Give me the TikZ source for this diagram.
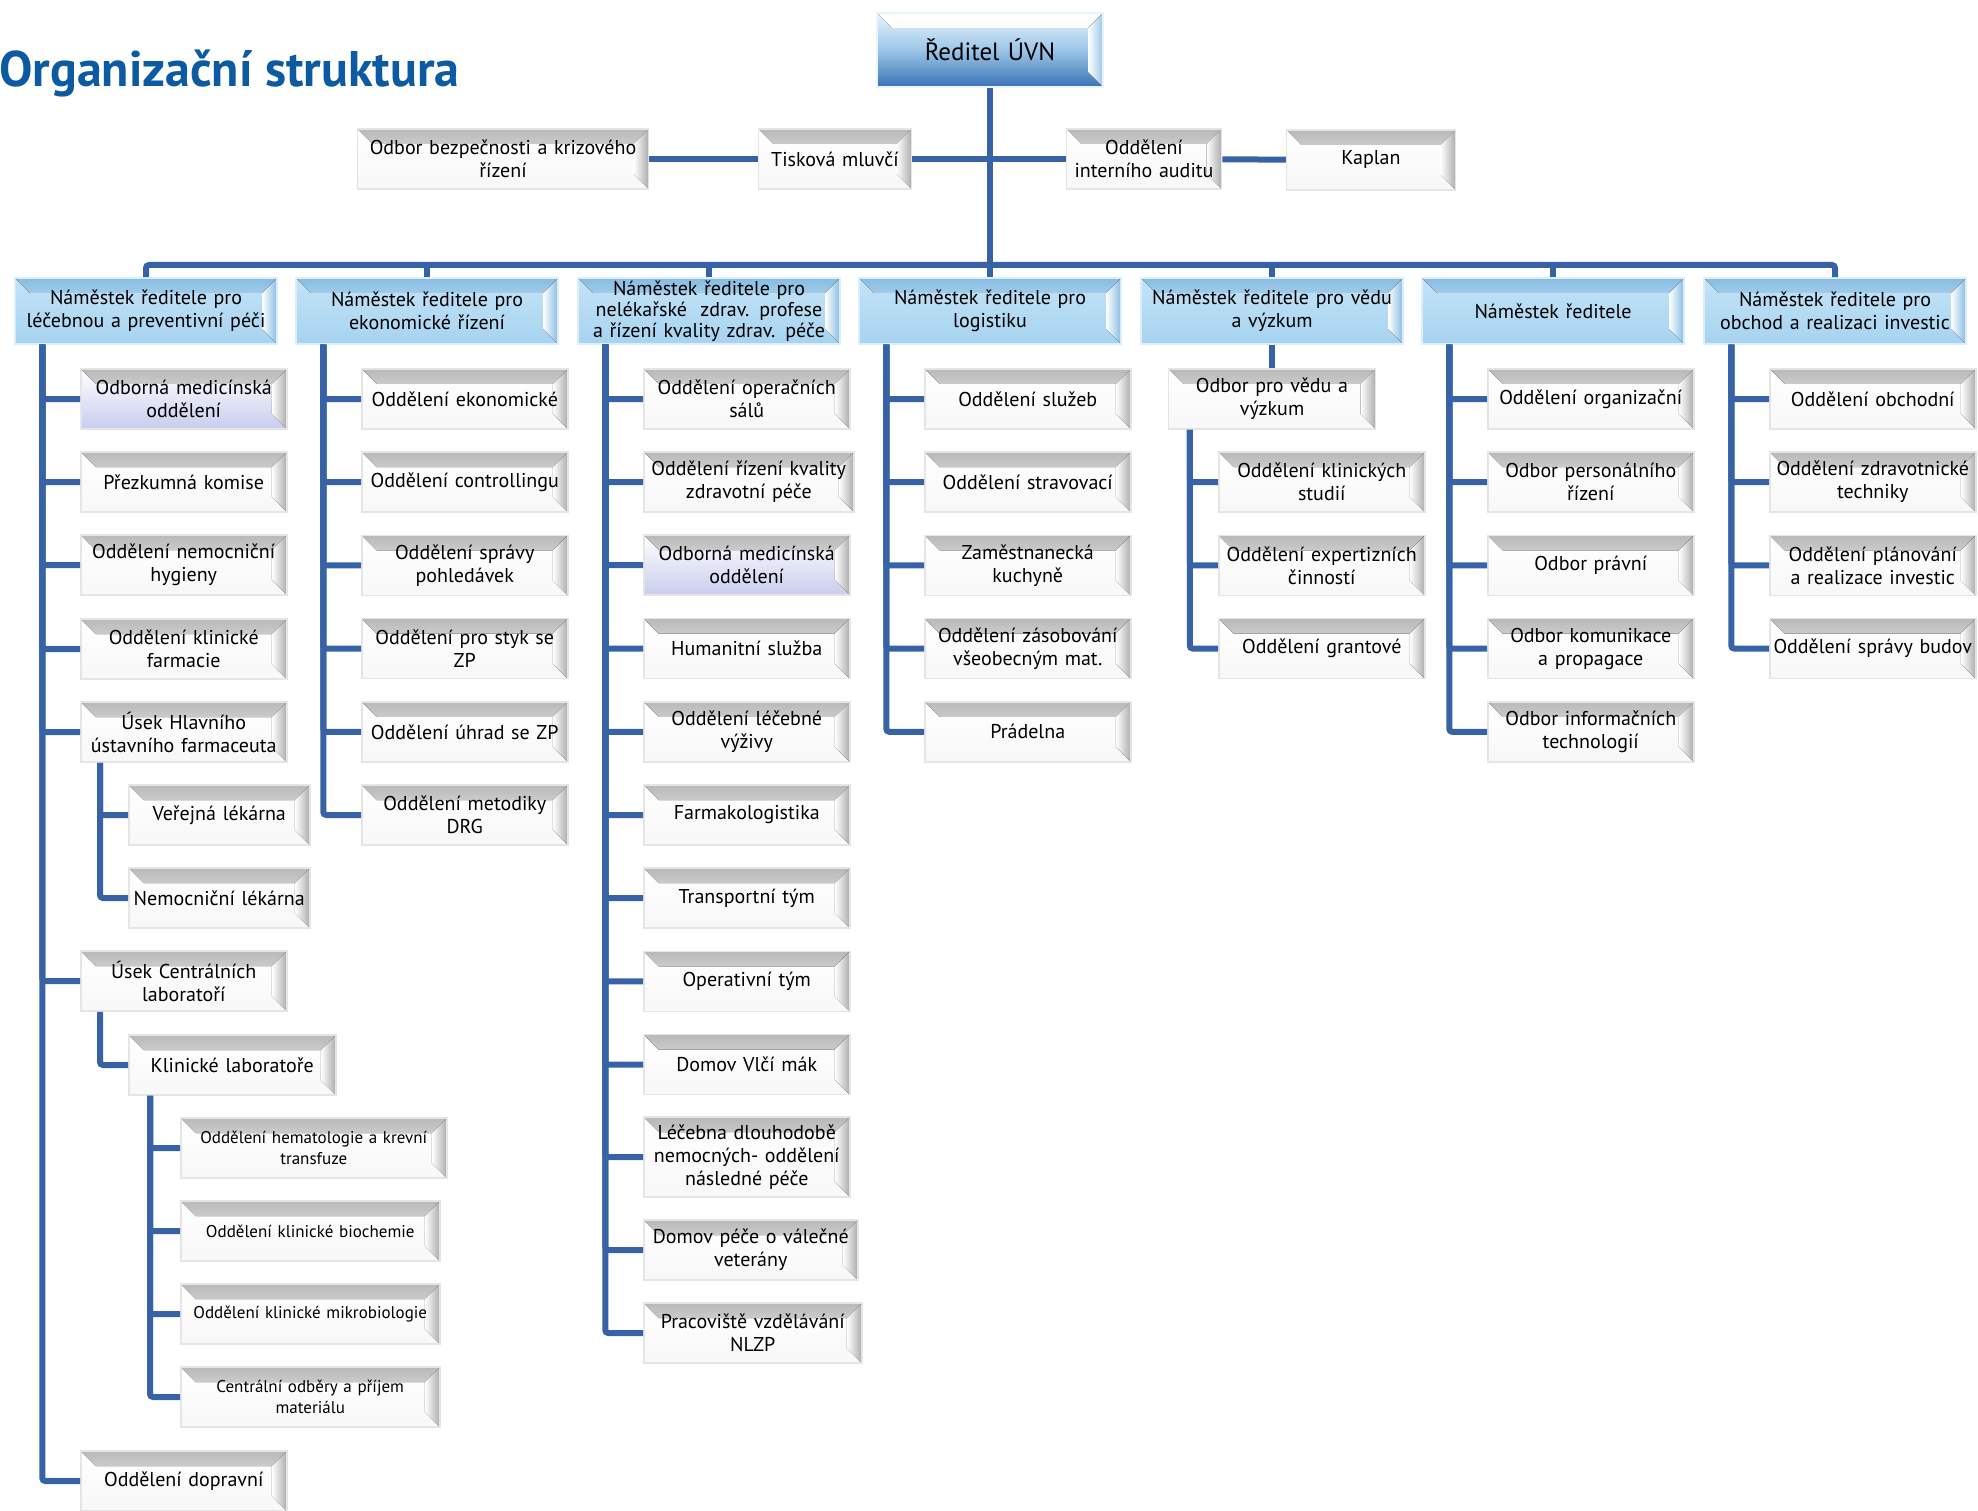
\documentclass[tikz,border=0pt]{standalone}
\usepackage{fontspec}
\setmainfont{PT Sans}
\usetikzlibrary{positioning}

\definecolor{linkblue}{HTML}{3763A6}
\definecolor{titleblue}{HTML}{0B5AA2}
\definecolor{headtop}{HTML}{C4E3F7}
\definecolor{headbot}{HTML}{A6D3F0}
\definecolor{headedge}{HTML}{86BCE2}
\definecolor{dirtop}{HTML}{E9F4FB}
\definecolor{dirmid}{HTML}{9CC6E8}
\definecolor{dirbot}{HTML}{3A72B6}
\definecolor{lavender}{HTML}{C9CCEE}

\newcommand\boxfont{\fontsize{20}{23}\selectfont}
\newcommand\subboxfont{\fontsize{17}{21}\selectfont}
\newcommand\dirfont{\fontsize{25}{30}\selectfont}
\newcommand\titlefont{\fontsize{50}{54}\selectfont\bfseries}

\tikzset{
	link/.style={draw=linkblue, line width=6pt, rounded corners=3pt},
	bevel/.style 2 args={path picture={
		\fill[top color=#1, bottom color=white]
			(path picture bounding box.north west) -- (path picture bounding box.north east)
			-- ([xshift=-15pt,yshift=-15pt]path picture bounding box.north east)
			-- ([xshift=15pt,yshift=-15pt]path picture bounding box.north west) -- cycle;
		\fill[left color=white, right color=#2]
			(path picture bounding box.north east) -- (path picture bounding box.south east)
			-- ([xshift=-15pt,yshift=15pt]path picture bounding box.south east)
			-- ([xshift=-15pt,yshift=-15pt]path picture bounding box.north east) -- cycle;
	}},
	unit/.style={rectangle, draw=gray!20, line width=1.5pt, align=center, inner sep=1pt,
		text width=204pt, minimum height=60pt, font=\boxfont,
		top color=white, bottom color=gray!6, bevel={gray!55}{gray!65}},
	medunit/.style={unit, top color=white, bottom color=lavender},
	subunit/.style={unit, font=\subboxfont},
	head/.style={rectangle, draw=headtop!60, line width=1.5pt, align=center, inner sep=1pt,
		text width=260pt, minimum height=66pt, font=\boxfont,
		top color=headtop, bottom color=headbot, bevel={headedge}{headedge}},
	boss/.style={rectangle, draw=dirtop, line width=1.5pt, align=center, inner sep=1pt,
		text width=224pt, minimum height=74pt, font=\dirfont,
		top color=dirtop, bottom color=dirbot, middle color=dirmid, bevel={white}{dirmid}}
}

\begin{document}
\begin{tikzpicture}[x=1pt, y=-1pt]
	\def\cA{146} \def\cB{427} \def\cC{709} \def\cD{990}
	\def\cE{1272} \def\cF{1553} \def\cG{1835}
	\useasboundingbox (0,0) rectangle (1978,1511);

	\node[anchor=base west, font=\titlefont, text=titleblue, inner sep=0] (title) at (-1,87) {Organizační struktura};

	% vedeni
	\node[boss] (dir) at (\cD,50) {Ředitel ÚVN};
	\node[unit, text width=289pt] (bezp) at (503,159) {Odbor bezpečnosti a krizového\\řízení};
	\node[unit, text width=151pt] (tisk) at (835,159) {Tisková mluvčí};
	\node[unit, text width=153pt] (audit) at (1144,159) {Oddělení\\interního auditu};
	\node[unit, text width=167pt] (kaplan) at (1371,160) {Kaplan};
	\draw[link] (bezp) -- (tisk);
	\draw[link] (tisk) -- (audit);
	\draw[link] (audit) -- (kaplan);

	% namestci
	\node[head] (h1) at (\cA,311) {Náměstek ředitele pro\\léčebnou a preventivní péči};
	\node[head] (h2) at (\cB,311) {Náměstek ředitele pro\\ekonomické řízení};
	\node[head, font=\fontsize{20}{21}\selectfont] (h3) at (\cC,311) {Náměstek ředitele pro\\nelékařské\ \ zdrav. profese\\a řízení kvality zdrav. péče};
	\node[head] (h4) at (\cD,311) {Náměstek ředitele pro\\logistiku};
	\node[head] (h5) at (\cE,311) {Náměstek ředitele pro vědu\\a výzkum};
	\node[head] (h6) at (\cF,311) {Náměstek ředitele};
	\node[head] (h7) at (\cG,311) {Náměstek ředitele pro\\obchod a realizaci investic};

	\coordinate (bus) at (\cD,265);
	\draw[link] (dir) -- (bus);
	\draw[link] (h1.north) |- (bus) -| (h7.north);
	\foreach \i in {2,...,6}
		\draw[link] (h\i.north) -- (h\i.north |- bus);

	% sloupec 1
	\node[medunit, anchor=west] (odbmedA) at (\cA-66,399) {Odborná medicínská\\oddělení};
	\node[unit, anchor=west] (prezk) at (\cA-66,482) {Přezkumná komise};
	\node[unit, anchor=west] (hyg) at (\cA-66,565) {Oddělení nemocniční\\hygieny};
	\node[unit, anchor=west] (farm) at (\cA-66,649) {Oddělení klinické\\farmacie};
	\node[unit, anchor=west] (hlfarm) at (\cA-66,732) {Úsek Hlavního\\ústavního farmaceuta};
	\node[unit, anchor=west, text width=179pt] (verlek) at (\cA-18,815) {Veřejná lékárna};
	\node[unit, anchor=west, text width=179pt] (nemlek) at (\cA-18,898) {Nemocniční lékárna};
	\node[unit, anchor=west] (centlab) at (\cA-66,981) {Úsek Centrálních\\laboratoří};
	\node[unit, anchor=west, text width=205pt] (klinlab) at (\cA-18,1065) {Klinické laboratoře};
	\node[subunit, anchor=west, text width=264pt] (hemat) at (\cA+34,1148) {Oddělení hematologie a krevní\\transfuze};
	\node[subunit, anchor=west, text width=257pt] (bioch) at (\cA+34,1231) {Oddělení klinické biochemie};
	\node[subunit, anchor=west, text width=257pt] (mikrob) at (\cA+34,1314) {Oddělení klinické mikrobiologie};
	\node[subunit, anchor=west, text width=257pt] (odbery) at (\cA+34,1397) {Centrální odběry a příjem\\materiálu};
	\node[unit, anchor=west] (doprav) at (\cA-66,1481) {Oddělení dopravní};

	\foreach \nm in {odbmedA,prezk,hyg,farm,hlfarm,centlab,doprav}
		\draw[link] ([xshift=28pt]h1.south west) |- (\nm);
	\foreach \nm in {verlek,nemlek}
		\draw[link] ([xshift=20pt]hlfarm.south west) |- (\nm);
	\draw[link] ([xshift=20pt]centlab.south west) |- (klinlab);
	\foreach \nm in {hemat,bioch,mikrob,odbery}
		\draw[link] ([xshift=22pt]klinlab.south west) |- (\nm);

	% sloupec 2
	\foreach \nm/\txt [count=\k from 0] in {ekon/Oddělení ekonomické, contr/Oddělení controllingu,
			pohl/Oddělení správy\\pohledávek, stykzp/Oddělení pro styk se\\ZP,
			uhrzp/Oddělení úhrad se ZP, drg/Oddělení metodiky\\DRG} {
		\node[unit, anchor=west] (\nm) at (\cB-66,399+83.2*\k) {\txt};
		\draw[link] ([xshift=28pt]h2.south west) |- (\nm);
	}

	% sloupec 3
	\node[unit, anchor=west] (salu) at (\cC-66,399) {Oddělení operačních\\sálů};
	\node[unit, anchor=west, text width=208pt] (kval) at (\cC-66,482) {Oddělení řízení kvality\\zdravotní péče};
	\node[medunit, anchor=west] (odbmedC) at (\cC-66,565) {Odborná medicínská\\oddělení};
	\foreach \nm/\txt [count=\k from 3] in {human/Humanitní služba, vyziva/Oddělení léčebné\\výživy,
			farmlog/Farmakologistika, transp/Transportní tým, operat/Operativní tým,
			vlcimak/Domov Vlčí mák}
		\node[unit, anchor=west] (\nm) at (\cC-66,399+83.2*\k) {\txt};
	\node[unit, anchor=west, minimum height=80pt] (ldn) at (\cC-66,1157) {Léčebna dlouhodobě\\nemocných- oddělení\\následné péče};
	\node[unit, anchor=west, text width=212pt] (veter) at (\cC-66,1250) {Domov péče o válečné\\veterány};
	\node[unit, anchor=west, text width=216pt] (nlzp) at (\cC-66,1333) {Pracoviště vzdělávání\\NLZP};
	\foreach \nm in {salu,kval,odbmedC,human,vyziva,farmlog,transp,operat,vlcimak,ldn,veter,nlzp}
		\draw[link] ([xshift=28pt]h3.south west) |- (\nm);

	% sloupec 4
	\foreach \nm/\txt [count=\k from 0] in {sluz/Oddělení služeb, strav/Oddělení stravovací,
			kuch/Zaměstnanecká\\kuchyně, zasob/Oddělení zásobování\\všeobecným mat., prad/Prádelna} {
		\node[unit, anchor=west] (\nm) at (\cD-66,399+83.2*\k) {\txt};
		\draw[link] ([xshift=28pt]h4.south west) |- (\nm);
	}

	% sloupec 5
	\node[unit, text width=205pt] (veda) at (\cE,399) {Odbor pro vědu a\\výzkum};
	\draw[link] (h5) -- (veda);
	\foreach \nm/\txt [count=\k from 1] in {studie/Oddělení klinických\\studií,
			expert/Oddělení expertizních\\činností, grant/Oddělení grantové} {
		\node[unit, anchor=west] (\nm) at (\cE-54,399+83.2*\k) {\txt};
		\draw[link] ([xshift=22pt]veda.south west) |- (\nm);
	}

	% sloupec 6
	\foreach \nm/\txt [count=\k from 0] in {organ/Oddělení organizační, pers/Odbor personálního\\řízení,
			pravni/Odbor právní, komun/Odbor komunikace\\a propagace, ict/Odbor informačních\\technologií} {
		\node[unit, anchor=west] (\nm) at (\cF-66,399+83.2*\k) {\txt};
		\draw[link] ([xshift=28pt]h6.south west) |- (\nm);
	}

	% sloupec 7
	\foreach \nm/\txt [count=\k from 0] in {obch/Oddělení obchodní, zdrtech/Oddělení zdravotnické\\techniky,
			invest/Oddělení plánování\\a realizace investic, budov/Oddělení správy budov} {
		\node[unit, anchor=west] (\nm) at (\cG-66,399+83.2*\k) {\txt};
		\draw[link] ([xshift=28pt]h7.south west) |- (\nm);
	}
\end{tikzpicture}
\end{document}
